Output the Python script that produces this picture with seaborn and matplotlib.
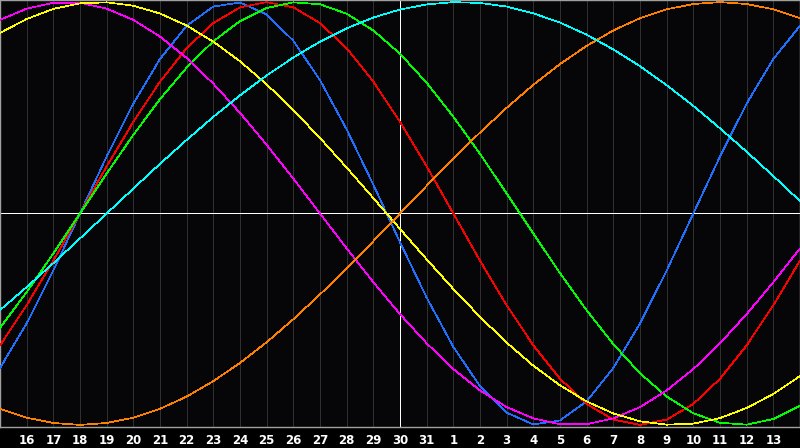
import matplotlib
matplotlib.use("Agg")
import matplotlib.pyplot as plt
import pandas as pd
import seaborn as sns

# day index 0..30 across the chart, with the calendar day shown under each
day_index = list(range(31))
day_of_month = [15, 16, 17, 18, 19, 20, 21, 22, 23, 24, 25, 26, 27, 28, 29, 30, 31,
                1, 2, 3, 4, 5, 6, 7, 8, 9, 10, 11, 12, 13, 14]
today_index = 15

# cycle values per day (-1 .. 1)
physical = [-0.731, -0.520, -0.270, 0.0, 0.270, 0.520, 0.731, 0.888, 0.979, 0.998,
            0.942, 0.817, 0.631, 0.398, 0.136, -0.136, -0.398, -0.631, -0.817, -0.942,
            -0.998, -0.979, -0.888, -0.731, -0.520, -0.270, 0.0, 0.270, 0.520, 0.731, 0.888]
emotional = [-0.624, -0.434, -0.223, 0.0, 0.223, 0.434, 0.624, 0.782, 0.901, 0.975,
             1.0, 0.975, 0.901, 0.782, 0.624, 0.434, 0.223, 0.0, -0.223, -0.434,
             -0.624, -0.782, -0.901, -0.975, -1.0, -0.975, -0.901, -0.782, -0.624, -0.434, -0.223]
intellectual = [-0.541, -0.372, -0.189, 0.0, 0.189, 0.372, 0.541, 0.690, 0.815, 0.910,
                0.972, 0.999, 0.990, 0.945, 0.866, 0.756, 0.618, 0.458, 0.282, 0.095,
                -0.095, -0.282, -0.458, -0.618, -0.756, -0.866, -0.945, -0.990, -0.999, -0.972, -0.910]
intuitive = [0.916, 0.969, 0.997, 0.997, 0.969, 0.916, 0.837, 0.736, 0.614, 0.476,
             0.325, 0.165, 0.0, -0.165, -0.325, -0.476, -0.614, -0.736, -0.837, -0.916,
             -0.969, -0.997, -0.997, -0.969, -0.916, -0.837, -0.736, -0.614, -0.476, -0.325, -0.165]
aesthetic = [0.854, 0.920, 0.968, 0.994, 0.999, 0.983, 0.946, 0.889, 0.813, 0.720,
             0.611, 0.489, 0.357, 0.217, 0.073, -0.073, -0.217, -0.357, -0.489, -0.611,
             -0.720, -0.813, -0.889, -0.946, -0.983, -0.999, -0.994, -0.968, -0.920, -0.854, -0.769]
awareness = [-0.924, -0.966, -0.991, -1.0, -0.991, -0.966, -0.924, -0.866, -0.793, -0.707,
             -0.609, -0.5, -0.383, -0.259, -0.131, 0.0, 0.131, 0.259, 0.383, 0.5,
             0.609, 0.707, 0.793, 0.866, 0.924, 0.966, 0.991, 1.0, 0.991, 0.966, 0.924]
spiritual = [-0.457, -0.348, -0.235, -0.118, 0.0, 0.118, 0.235, 0.348, 0.457, 0.559,
             0.653, 0.738, 0.813, 0.876, 0.927, 0.965, 0.989, 1.0, 0.996, 0.979,
             0.947, 0.903, 0.846, 0.776, 0.697, 0.607, 0.509, 0.403, 0.292, 0.177, 0.059]

cycles = {
    "physical": physical,
    "emotional": emotional,
    "intellectual": intellectual,
    "intuitive": intuitive,
    "aesthetic": aesthetic,
    "awareness": awareness,
    "spiritual": spiritual,
}
colors = {
    "physical": "#2070ff",
    "emotional": "#ff0000",
    "intellectual": "#00ff00",
    "intuitive": "#ff00ff",
    "aesthetic": "#ffff00",
    "awareness": "#ff8000",
    "spiritual": "#00ffff",
}

df = pd.concat(
    [pd.DataFrame({"day": day_index, "value": vals, "cycle": name})
     for name, vals in cycles.items()],
    ignore_index=True,
)

sns.set_theme(style="dark")
plt.rcParams["font.family"] = ["DejaVu Sans"]

fig = plt.figure(figsize=(8, 4.48), dpi=100, facecolor="#000000")
ax = fig.add_axes([0, 21 / 448, 1, 427 / 448])
ax.set_facecolor("#060609")

# day grid
for d in day_index[1:-1]:
    ax.axvline(d, color="#303030", lw=0.5, antialiased=False, zorder=1)

sns.lineplot(data=df, x="day", y="value", hue="cycle", palette=colors,
             estimator=None, sort=False, legend=False, lw=0.5,
             antialiased=False, ax=ax, zorder=3)

ax.axhline(0, color="white", lw=0.6, antialiased=False, zorder=2)
ax.axvline(today_index, color="white", lw=0.6, antialiased=False, zorder=2)

ax.set_xlim(0, 30)
ax.set_ylim(-1.01, 1.01)
ax.set_yticks([])
ax.set_xticks(day_index[1:-1])
ax.set_xticklabels([str(m) for m in day_of_month[1:-1]],
                   color="white", fontsize=8.5, fontweight="bold")
ax.tick_params(axis="x", length=0, pad=5)
ax.set_xlabel("")
ax.set_ylabel("")
ax.grid(False)
for s in ax.spines.values():
    s.set_visible(True)
    s.set_color("#a0a0a0")
    s.set_linewidth(1.0)

fig.savefig("out.png", dpi=100, facecolor="#000000")
